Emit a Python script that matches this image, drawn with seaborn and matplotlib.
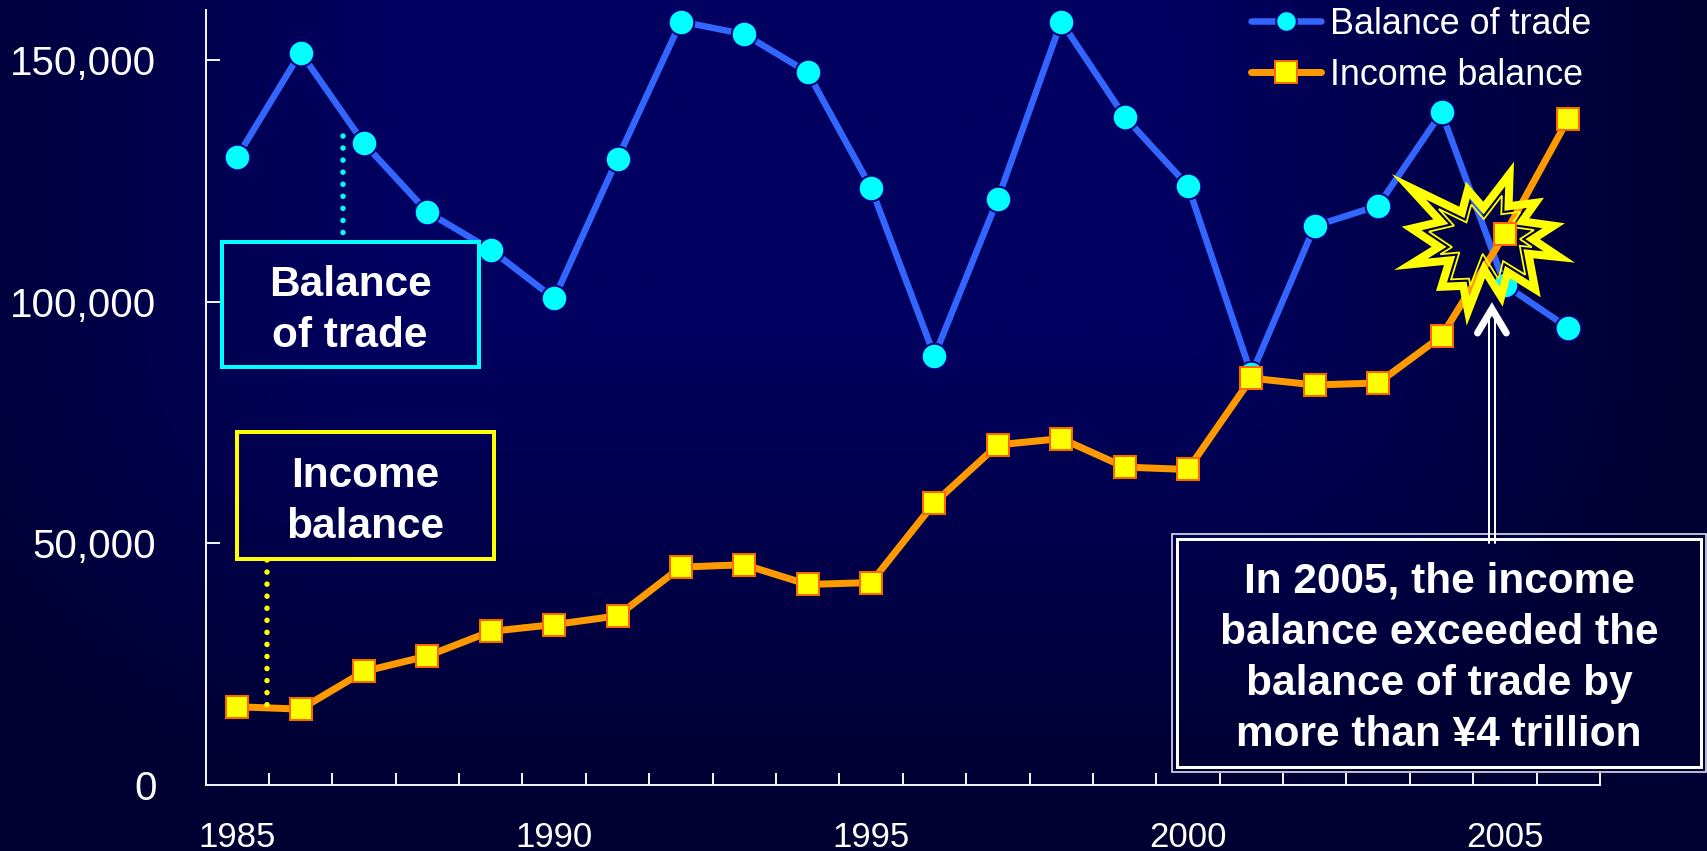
import numpy as np
import pandas as pd
import matplotlib
matplotlib.use("Agg")
import matplotlib.pyplot as plt
import seaborn as sns
from matplotlib.lines import Line2D
from matplotlib.patches import PathPatch, Rectangle
from matplotlib.path import Path
from matplotlib.ticker import FixedLocator, FuncFormatter
from matplotlib.transforms import Affine2D

# Annual balances, 100 million yen
years = list(range(1985, 2007))
balance_of_trade = [130000, 151600, 132800, 118600, 110800, 100700, 129600, 158000,
                    155400, 147500, 123600, 88800, 121300, 158000, 138300, 124000,
                    85000, 115700, 119900, 139200, 103500, 94600]
income_balance = [16200, 15700, 23500, 26700, 31800, 33200, 35000, 45100,
                  45600, 41500, 41900, 58400, 70400, 71700, 65800, 65300,
                  84200, 82800, 83200, 92900, 114000, 137900]
year_labels = [1985, 1990, 1995, 2000, 2005]
value_ticks = [0, 50000, 100000, 150000]

W, H = 1707, 851
sns.set_theme(style="white")
plt.rcParams["font.family"] = ["Liberation Sans", "DejaVu Sans"]
px = 0.72  # one pixel in points at 100 dpi

fig = plt.figure(figsize=(W / 100, H / 100), dpi=100)

# Full-figure navy backdrop, brightest in the upper middle
xx, yy = np.meshgrid(np.linspace(0, W, 427), np.linspace(0, H, 213))
gx = np.clip((np.abs(xx - 780) - 400) / 520, 0, 1)
gy = np.clip((yy - 330) / 470, 0, 1)
shade = 1 - np.clip(np.sqrt(gx ** 2 + gy ** 2), 0, 1)
backdrop = np.zeros(xx.shape + (3,))
backdrop[..., 2] = (50 + 46 * shade) / 255
bg = fig.add_axes([0, 0, 1, 1], zorder=0)
bg.imshow(backdrop, extent=(0, W, H, 0), aspect="auto", interpolation="bilinear")
bg.axis("off")

ax = fig.add_axes([205.5 / W, (H - 785) / H, (1600 - 205.5) / W, 775 / H], zorder=1)
ax.patch.set_alpha(0)

df = pd.DataFrame({"year": years, "trade": balance_of_trade, "income": income_balance})
sns.lineplot(data=df, x="year", y="trade", ax=ax, color="#3366FF", linewidth=6.5 * px,
             marker="o", markersize=25.5 * px, markerfacecolor="#00FFFF",
             markeredgecolor="#000080", markeredgewidth=2 * px, zorder=2, legend=False)
sns.lineplot(data=df, x="year", y="income", ax=ax, color="#FF9900", linewidth=7 * px,
             marker="s", markersize=21.5 * px, markerfacecolor="#FFFF00",
             markeredgecolor="#FF6600", markeredgewidth=2 * px, zorder=2.1, legend=False)

ax.set_xlim(1984.5, 2006.5)
ax.set_ylim(0, 160400)
ax.set_xlabel("")
ax.set_ylabel("")
for side in ("top", "right"):
    ax.spines[side].set_visible(False)
for side in ("left", "bottom"):
    ax.spines[side].set_color("#F0F0FF")
    ax.spines[side].set_linewidth(2 * px)

ax.yaxis.set_major_locator(FixedLocator(value_ticks))
ax.yaxis.set_major_formatter(FuncFormatter(lambda v, _: f"{int(v):,}"))
ax.xaxis.set_major_locator(FixedLocator(year_labels))
ax.xaxis.set_minor_locator(FixedLocator([y - 0.5 for y in years] + [years[-1] + 0.5]))
ax.tick_params(axis="y", which="major", left=True, direction="in", length=14 * px, width=2 * px,
               color="#F0F0FF", labelcolor="white", labelsize=29, pad=35.3)
ax.tick_params(axis="x", which="major", bottom=False, labelcolor="white", labelsize=25, pad=20)
ax.tick_params(axis="x", which="minor", bottom=True, direction="in", length=12 * px, width=2 * px,
               color="#F0F0FF")

# Everything below is placed in figure pixels, measured from the top left
to_px = Affine2D().scale(1, -1).translate(0, H)


def offset_polygon(points, d):
    """Inset a closed polygon by d, keeping mitred corners."""
    pts = np.asarray(points, float)
    x, y = pts.T
    sign = np.sign(np.sum(x * np.roll(y, -1) - np.roll(x, -1) * y))
    out = []
    n = len(pts)
    for i in range(n):
        a, b, c = pts[i - 1], pts[i], pts[(i + 1) % n]
        u = (b - a) / np.linalg.norm(b - a)
        v = (c - b) / np.linalg.norm(c - b)
        nu = sign * np.array([-u[1], u[0]])
        nv = sign * np.array([-v[1], v[0]])
        m = nu + nv
        out.append(b + m * d / (1 + nu @ nv))
    return np.array(out)


# Burst marking the 2005 crossover: thick band, narrow gap, thin inner line
burst = [(1391.7, 174), (1459.3, 206.7), (1466, 181.7), (1483.3, 201.7), (1514, 161.7),
         (1512.7, 201.7), (1544, 197.7), (1529.3, 218.3), (1565, 223.3), (1540, 239.3),
         (1575, 262.7), (1533.3, 258.3), (1540.7, 297.3), (1510, 278.3), (1502.7, 306.7),
         (1485, 278.3), (1466.7, 325.7), (1460, 290), (1436, 291), (1444, 265),
         (1394, 270), (1431.7, 246.7), (1401.7, 226.7), (1433.3, 219.3)]
inner = offset_polygon(burst, 8)[::-1]
outer = np.array(burst)
verts = np.vstack([outer, outer[:1], inner, inner[:1]])
codes = ([Path.MOVETO] + [Path.LINETO] * (len(outer) - 1) + [Path.CLOSEPOLY]) * 2
ax.add_patch(PathPatch(Path(verts, codes), facecolor="#FFFF00", edgecolor="none",
                       transform=to_px, clip_on=False, zorder=3))
thin = offset_polygon(burst, 11)
ax.add_patch(plt.Polygon(thin, closed=True, fill=False, edgecolor="#FFFF00", linewidth=1.8 * px,
                         joinstyle="miter", transform=to_px, clip_on=False, zorder=3))

# The 2005 income point sits above the burst
crossover = years.index(2005)
ax.plot([years[crossover]], [income_balance[crossover]], marker="s", markersize=21.5 * px,
        markerfacecolor="#FFFF00", markeredgecolor="#FF6600", markeredgewidth=2 * px,
        linestyle="none", zorder=4)


def panel(x0, y0, x1, y1):
    """Box filled with the backdrop so that it hides the lines behind it."""
    frame = Rectangle((x0, y0), x1 - x0, y1 - y0, transform=to_px)
    img = ax.imshow(backdrop, extent=(0, W, H, 0), transform=to_px, aspect="auto",
                    interpolation="bilinear", zorder=5)
    img.set_clip_path(frame)


def outline(x0, y0, x1, y1, color, width):
    ax.add_patch(Rectangle((x0, y0), x1 - x0, y1 - y0, fill=False, edgecolor=color,
                           linewidth=width * px, joinstyle="miter", transform=to_px,
                           clip_on=False, zorder=6))


def label(xc, yc, lines, step=51.3):
    for i, line in enumerate(lines):
        ax.text(xc, yc + i * step, line, transform=to_px, ha="center", va="center_baseline",
                color="white", fontsize=30.5, fontweight="bold", clip_on=False, zorder=7)


def leader(x, y0, y1, color):
    ax.add_line(Line2D([x, x], [y0, y1], color=color, linewidth=5.5 * px, transform=to_px,
                       dash_capstyle="round", dashes=(0.01, 12 / 5.5), clip_on=False, zorder=4))


leader(342.9, 135.7, 236, "#00FFFF")
leader(266.8, 560, 708, "#FFFF00")

panel(220, 240, 480.7, 369)
outline(222, 242, 478.7, 367, "#00FFFF", 4)
label(350, 280, ["Balance", "of trade"])

panel(234.6, 430, 495.7, 560.7)
outline(236.6, 432, 493.7, 558.7, "#FFFF00", 4)
label(364.8, 471.7, ["Income", "balance"])

# Callout with a double frame and a double-shafted arrow
for shaft_x in (1489, 1495):
    ax.add_line(Line2D([shaft_x, shaft_x], [318, 543], color="white", linewidth=2 * px,
                       transform=to_px, clip_on=False, zorder=5))
ax.add_line(Line2D([1477.5, 1491.9, 1506.3], [333, 309, 333], color="white", linewidth=7 * px,
                   solid_capstyle="round", solid_joinstyle="miter", transform=to_px,
                   clip_on=False, zorder=5))
panel(1171, 533.5, 1706, 772.7)
outline(1171.5, 533.7, 1705.5, 772, "#D8D8F0", 1.7)
outline(1176.5, 538.7, 1700.7, 767, "white", 3)
for shaft_x in (1489, 1495):
    ax.add_line(Line2D([shaft_x, shaft_x], [528, 543], color="white", linewidth=2 * px,
                       transform=to_px, clip_on=False, zorder=7))
label(1439, 576.7, ["In 2005, the income", "balance exceeded the",
                    "balance of trade by", "more than ¥4 trillion"])

ax.set_xlim(1984.5, 2006.5)
ax.set_ylim(0, 160400)

handles = [
    Line2D([], [], color="#3366FF", linewidth=6.5 * px, solid_capstyle="round", marker="o",
           markersize=20.5 * px, markerfacecolor="#00FFFF", markeredgecolor="#000080",
           markeredgewidth=2 * px, label="Balance of trade"),
    Line2D([], [], color="#FF9900", linewidth=7 * px, solid_capstyle="round", marker="s",
           markersize=21.5 * px, markerfacecolor="#FFFF00", markeredgecolor="#FF6600",
           markeredgewidth=2 * px, label="Income balance"),
]
legend = ax.legend(handles=handles, loc="upper left", frameon=False, fontsize=25.8,
                   labelcolor="white", handlelength=1.96, handletextpad=0.27,
                   labelspacing=0.44, borderpad=0, borderaxespad=0,
                   bbox_to_anchor=(1250.5 / W, 1 - 7 / H), bbox_transform=fig.transFigure)
legend.set_zorder(8)

fig.savefig("out.png", dpi=100, facecolor="#000033")
